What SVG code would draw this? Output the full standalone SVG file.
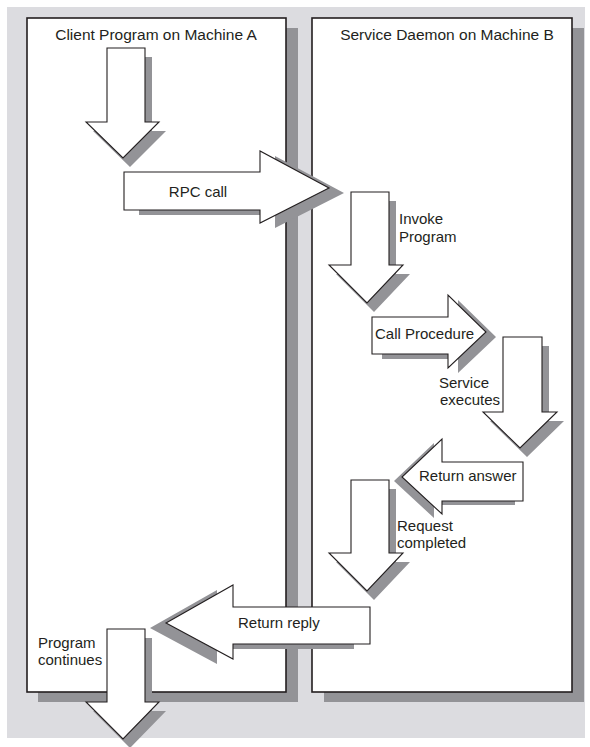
<svg xmlns="http://www.w3.org/2000/svg" width="590" height="747" viewBox="0 0 590 747">
<style>
.bg{fill:#dcdce0}
.sh{fill:#939397}
.box{fill:#fff;stroke:#231f20;stroke-width:1.6}
.arr{fill:#fff;stroke:#231f20;stroke-width:1.1;stroke-linejoin:miter}
.t{font-family:"Liberation Sans",Arial,sans-serif;font-size:15px;fill:#231f20}
.h{font-family:"Liberation Sans",Arial,sans-serif;font-size:15.5px;fill:#231f20}
</style>
<rect class="bg" x="7" y="7" width="578" height="731"/>
<g id="machineA">
  <rect class="sh" x="38" y="28" width="260" height="674"/>
  <rect class="box" x="27" y="18" width="259" height="674"/>
  <text class="h" x="156" y="40" text-anchor="middle">Client Program on Machine A</text>
</g>
<g id="machineB">
  <rect class="sh" x="324" y="28" width="260" height="674"/>
  <rect class="box" x="312" y="18" width="260" height="674"/>
  <text class="h" x="447" y="40" text-anchor="middle">Service Daemon on Machine B</text>
</g>
<g id="connectors">
  <g id="start">
    <polygon class="sh" transform="translate(7,9)" points="107,48 145,48 145,122 159,122 123,158 86,122 107,122"/>
    <polygon class="arr" points="107,48 145,48 145,122 159,122 123,158 86,122 107,122"/>
  </g>
  <g id="rpc-call">
    <polygon class="sh" transform="translate(15,5)" points="124,172 260,172 260,151 329,188 260,223 260,210 124,210"/>
    <polygon class="arr" points="124,172 260,172 260,151 329,188 260,223 260,210 124,210"/>
    <text class="t" x="198" y="197" text-anchor="middle">RPC call</text>
  </g>
  <g id="invoke-program">
    <polygon class="sh" transform="translate(7,9)" points="351,192 389,192 389,265 403,265 367,303 329,265 351,265"/>
    <polygon class="arr" points="351,192 389,192 389,265 403,265 367,303 329,265 351,265"/>
    <text class="t" x="399" y="224">Invoke</text>
    <text class="t" x="399" y="242">Program</text>
  </g>
  <g id="call-procedure">
    <polygon class="sh" transform="translate(10,5)" points="372,317 448,317 448,295 486,332 448,368 448,354 372,354"/>
    <polygon class="arr" points="372,317 448,317 448,295 486,332 448,368 448,354 372,354"/>
    <text class="t" x="375" y="339">Call Procedure</text>
  </g>
  <g id="service-executes">
    <polygon class="sh" transform="translate(7,9)" points="503,337 542,337 542,412 557,412 520,448 483,412 503,412"/>
    <polygon class="arr" points="503,337 542,337 542,412 557,412 520,448 483,412 503,412"/>
    <text class="t" x="439" y="388">Service</text>
    <text class="t" x="440" y="405">executes</text>
  </g>
  <g id="return-answer">
    <polygon class="sh" transform="translate(-8,4)" points="523,462 442,462 442,439 402,477 442,514 442,501 523,501"/>
    <polygon class="arr" points="523,462 442,462 442,439 402,477 442,514 442,501 523,501"/>
    <text class="t" x="419" y="481">Return answer</text>
  </g>
  <g id="request-completed">
    <polygon class="sh" transform="translate(7,9)" points="351,480 389,480 389,553 403,553 367,591 329,553 351,553"/>
    <polygon class="arr" points="351,480 389,480 389,553 403,553 367,591 329,553 351,553"/>
    <text class="t" x="397" y="531">Request</text>
    <text class="t" x="397" y="548">completed</text>
  </g>
  <g id="return-reply">
    <polygon class="sh" transform="translate(-16,5)" points="370,607 233,607 233,585 166,623 233,659 233,644 370,644"/>
    <polygon class="arr" points="370,607 233,607 233,585 166,623 233,659 233,644 370,644"/>
    <text class="t" x="238" y="628">Return reply</text>
  </g>
  <g id="program-continues">
    <polygon class="sh" transform="translate(7,9)" points="107,629 145,629 145,702 159,702 123,739 86,702 107,702"/>
    <polygon class="arr" points="107,629 145,629 145,702 159,702 123,739 86,702 107,702"/>
    <text class="t" x="38" y="648">Program</text>
    <text class="t" x="38" y="665">continues</text>
  </g>
</g>
</svg>
